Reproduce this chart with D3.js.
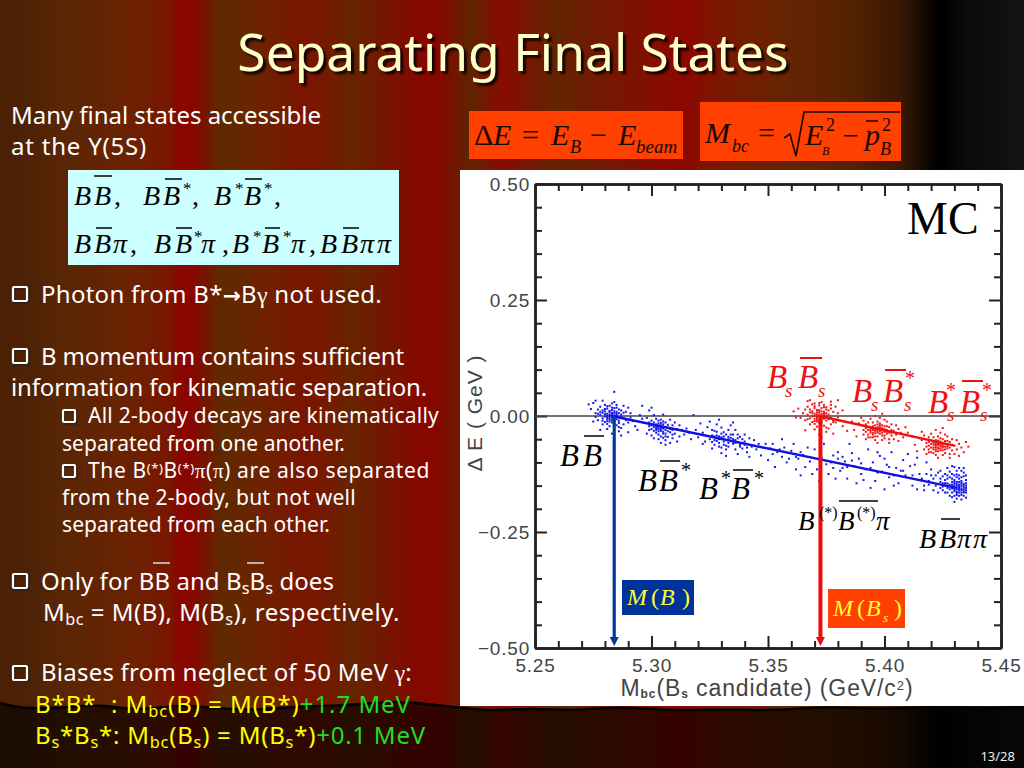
<!DOCTYPE html>
<html><head><meta charset="utf-8">
<script src="https://cdnjs.cloudflare.com/ajax/libs/d3/7.8.5/d3.min.js"></script>
<style>html,body{margin:0;padding:0;background:#000;overflow:hidden}svg{display:block}text{white-space:pre}</style>
</head><body><svg id="c" width="1024" height="768"></svg>
<script>
// ---- Chart data (mass in MeV/c^2, energy difference in MeV) ----
const xMajor=[5250,5300,5350,5400,5450];
const yMajor=[-500,-250,0,250,500];
const xMinor=[5260,5270,5280,5290,5310,5320,5330,5340,5360,5370,5380,5390,5410,5420,5430,5440];
const yMinor=[-450,-400,-350,-300,-200,-150,-100,-50,50,100,150,200,300,350,400,450];
const blueFit=[[5283,0],[5431,-155]];
const redFit=[[5372,0],[5430,-64]];
const bbDots=[[5283,2],[5281,-6],[5285,5],[5279,12],[5286,-10],[5284,-2],[5282,8],[5280,-1],[5287,3],[5283,-14],[5278,20],[5281,16],[5285,18],[5288,-4],[5276,6],[5284,10],[5282,-8],[5277,-9],[5289,9],[5286,14],[5280,24],[5283,27],[5275,28],[5279,-18],[5285,-20],[5287,-26],[5282,-22],[5290,-14],[5291,-3],[5284,30],[5288,22],[5276,-2],[5274,15],[5281,-28],[5286,-33],[5283,-38],[5279,33],[5284,52],[5278,-30],[5290,18],[5282,3],[5284,-5],[5283,7],[5285,-1],[5281,1],[5280,10],[5286,6],[5282,-12],[5284,-16],[5287,12],[5278,3],[5277,14],[5289,-9],[5292,-11],[5293,-22],[5288,-18],[5285,24],[5281,21],[5283,13],[5280,-13],[5279,-5],[5286,-24],[5284,17],[5282,-4],[5283,-9],[5285,9],[5281,-17],[5291,6],[5294,-30],[5275,-12],[5273,25],[5276,33],[5290,-35],[5287,-42],[5282,0],[5283,4],[5284,1],[5281,5],[5285,2],[5280,4],[5286,-3],[5282,11],[5284,6],[5283,-4],[5281,-3],[5279,7],[5285,-7],[5287,-2],[5278,9],[5280,15],[5283,18],[5282,22],[5284,-11],[5286,-15],[5281,-11],[5279,-10],[5277,5],[5288,7]];
const bbsDots=[[5304,-25],[5302,-18],[5306,-30],[5300,-10],[5308,-35],[5303,-40],[5305,-12],[5299,-22],[5309,-20],[5301,-32],[5307,-45],[5304,-8],[5311,-28],[5298,-4],[5297,-15],[5303,-28],[5305,-24],[5302,-36],[5300,-42],[5310,-38],[5306,-52],[5304,-58],[5312,-44],[5301,2],[5305,3],[5308,-8],[5313,-30],[5299,-30],[5296,-6],[5295,2],[5303,-16],[5307,-19],[5304,-32],[5306,-38],[5302,-26],[5300,-20],[5309,-48],[5311,-55],[5314,-40],[5315,-27],[5303,-50],[5306,-62],[5298,-38],[5301,-48],[5305,-18],[5303,-22],[5307,-26],[5304,-44],[5310,-14],[5302,-6],[5300,18],[5316,-36],[5317,-50],[5308,-58],[5312,-20],[5309,-30],[5305,-34],[5304,-20],[5306,-14],[5301,-14],[5299,12],[5296,22],[5303,-25],[5304,-29],[5305,-27],[5302,-22],[5306,-24],[5301,-24],[5307,-33],[5303,-33],[5305,-38],[5304,-15],[5308,-28],[5302,-30],[5300,-28],[5306,-44],[5303,-10],[5299,-14],[5309,-40],[5305,-47]];
const bsbsDots=[[5330,-50],[5328,-42],[5333,-58],[5326,-30],[5335,-60],[5331,-35],[5329,-66],[5337,-48],[5325,-50],[5334,-40],[5327,-62],[5332,-72],[5339,-70],[5324,-24],[5336,-30],[5330,-80],[5340,-55],[5322,-36],[5333,-45],[5331,-55],[5329,-50],[5335,-50],[5327,-44],[5338,-62],[5341,-78],[5343,-66],[5326,-70],[5323,-55],[5321,-16],[5328,-18],[5334,-20],[5330,-25],[5337,-82],[5342,-88],[5345,-72],[5347,-85],[5319,-30],[5332,-64],[5336,-72],[5325,-12],[5329,-8],[5335,-14],[5333,-30],[5340,-40],[5344,-52],[5331,-44],[5328,-54],[5326,-56],[5334,-54],[5336,-58],[5339,-58],[5338,-45],[5322,-60],[5320,-46],[5342,-48],[5327,-32],[5330,-68],[5332,-86],[5346,-60],[5318,2],[5330,-46],[5331,-49],[5332,-52],[5329,-44],[5333,-50],[5328,-48],[5334,-47],[5335,-55],[5327,-52],[5326,-42],[5336,-52],[5337,-56],[5329,-58],[5331,-62],[5333,-66],[5338,-66],[5340,-62],[5341,-68],[5330,-38],[5332,-40],[5328,-34],[5335,-40],[5337,-40],[5339,-50]];
const pionDots=[[5349,-60],[5352,-82],[5355,-72],[5358,-100],[5360,-75],[5361,-60],[5363,-92],[5365,-84],[5366,-110],[5368,-98],[5370,-72],[5371,-115],[5373,-90],[5375,-104],[5376,-125],[5378,-85],[5380,-78],[5381,-118],[5383,-98],[5384,-135],[5386,-80],[5387,-108],[5389,-92],[5390,-125],[5392,-115],[5393,-72],[5395,-100],[5396,-140],[5398,-86],[5399,-120],[5401,-105],[5402,-132],[5403,-78],[5405,-112],[5406,-145],[5408,-95],[5409,-128],[5411,-108],[5412,-150],[5414,-90],[5415,-125],[5416,-138],[5418,-100],[5419,-148],[5420,-115],[5356,-50],[5362,-115],[5369,-125],[5374,-60],[5379,-135],[5385,-60],[5391,-138],[5397,-78],[5404,-150],[5410,-82],[5417,-160],[5353,-110],[5359,-92],[5367,-68],[5377,-100],[5382,-88],[5388,-145],[5394,-155],[5400,-92],[5407,-118],[5413,-105],[5382,-112],[5364,-128],[5372,-140],[5400,-158],[5351,-70],[5354,-78],[5357,-68],[5362,-88],[5364,-78],[5378,-112],[5380,-92],[5384,-110],[5386,-96],[5390,-102],[5394,-112],[5397,-122],[5402,-110],[5404,-128],[5408,-118],[5412,-128],[5350,-95],[5352,-60],[5356,-88]];
const pipiDots=[[5428,-148],[5430,-155],[5432,-160],[5431,-150],[5429,-142],[5433,-165],[5427,-135],[5430,-162],[5432,-148],[5434,-158],[5431,-170],[5428,-120],[5426,-150],[5429,-165],[5433,-140],[5430,-128],[5425,-130],[5434,-172],[5432,-135],[5435,-150],[5431,-118],[5427,-165],[5424,-142],[5433,-118],[5429,-175],[5435,-165],[5423,-122],[5422,-150],[5431,-158],[5430,-146],[5432,-154],[5433,-152],[5434,-146],[5431,-142],[5428,-158],[5429,-152],[5427,-145],[5426,-125],[5430,-138],[5432,-128],[5434,-130],[5435,-138],[5428,-132],[5425,-160],[5424,-118],[5421,-135],[5420,-128],[5433,-180],[5430,-185],[5434,-112],[5429,-108],[5432,-112],[5427,-112],[5423,-165],[5419,-140],[5418,-125],[5417,-150],[5431,-163],[5433,-157],[5435,-155],[5430,-150],[5432,-142],[5429,-135],[5431,-132],[5434,-165],[5426,-138],[5428,-172],[5433,-170],[5435,-176],[5431,-178],[5430,-172],[5425,-145],[5422,-128],[5424,-155],[5427,-155],[5416,-135],[5414,-158],[5421,-160],[5434,-122],[5430,-110],[5431,-154],[5432,-151],[5433,-148],[5434,-154],[5435,-160],[5432,-156],[5431,-146],[5430,-158],[5429,-156],[5433,-160],[5432,-165],[5434,-150],[5435,-145],[5433,-144],[5431,-166],[5430,-142],[5429,-148],[5428,-152],[5427,-150],[5426,-145],[5425,-152],[5432,-172],[5434,-162],[5433,-132],[5435,-128],[5431,-126],[5429,-125],[5427,-128],[5426,-165],[5424,-135]];
const rbbDots=[[5372,2],[5370,-6],[5374,6],[5368,14],[5375,-10],[5373,-2],[5371,8],[5369,-1],[5376,3],[5372,-15],[5367,20],[5370,17],[5374,19],[5377,-4],[5365,6],[5373,10],[5371,-8],[5366,-9],[5378,9],[5375,14],[5369,25],[5372,28],[5364,-4],[5368,-18],[5374,-21],[5376,-27],[5371,-23],[5379,-14],[5380,-3],[5373,30],[5377,24],[5367,32],[5363,16],[5370,-29],[5375,-34],[5372,-40],[5368,34],[5382,12],[5366,-31],[5379,20],[5371,3],[5373,-5],[5372,7],[5374,-1],[5370,1],[5369,10],[5375,6],[5371,-12],[5373,-16],[5376,12],[5367,3],[5366,14],[5378,-9],[5381,-11],[5382,-22],[5377,-18],[5374,24],[5370,21],[5372,13],[5369,-13],[5368,-5],[5375,-25],[5373,17],[5371,-4],[5372,-9],[5374,9],[5370,-17],[5380,6],[5362,-3],[5384,-32],[5378,-38],[5361,10],[5377,31],[5373,-46],[5380,34],[5372,-1],[5373,4],[5371,-2],[5374,3],[5370,5],[5375,1],[5372,11],[5369,6],[5371,13],[5373,-11],[5374,-6],[5376,-7],[5370,-11],[5368,8],[5367,-7],[5375,19],[5372,23],[5370,27],[5377,16],[5378,-13]];
const rbsDots=[[5397,-30],[5395,-22],[5399,-36],[5393,-14],[5401,-38],[5396,-44],[5398,-16],[5392,-26],[5402,-24],[5394,-36],[5400,-48],[5397,-12],[5404,-32],[5391,-10],[5390,-20],[5396,-32],[5398,-28],[5395,-40],[5393,-46],[5403,-42],[5399,-52],[5397,-58],[5405,-40],[5394,-6],[5398,-4],[5401,-12],[5406,-28],[5392,-34],[5389,-16],[5396,-20],[5400,-22],[5397,-36],[5399,-42],[5395,-30],[5393,-24],[5402,-50],[5404,-50],[5407,-36],[5396,-52],[5399,-26],[5401,-30],[5397,-24],[5398,-33],[5394,-28],[5391,-40],[5403,-18],[5405,-20],[5395,-14],[5400,-8],[5387,-30],[5386,-12],[5408,-46],[5409,-24],[5396,-26],[5398,-38],[5400,-34],[5394,-46],[5392,-50],[5402,-58],[5406,-54],[5390,-4],[5396,0],[5399,5],[5393,-40],[5397,-44],[5395,-36],[5401,-22],[5403,-30],[5388,-44],[5410,-36],[5397,-27],[5398,-24],[5396,-29],[5399,-31],[5395,-26],[5397,-33],[5400,-28],[5394,-32],[5398,-20],[5396,-37],[5401,-34],[5393,-30],[5399,-20],[5397,-18],[5402,-36],[5395,-46],[5400,-42],[5392,-18],[5403,-36],[5391,-30]];
const rbssDots=[[5423,-62],[5421,-54],[5425,-68],[5419,-46],[5427,-70],[5422,-76],[5424,-48],[5418,-58],[5428,-56],[5420,-68],[5426,-80],[5423,-44],[5430,-64],[5417,-42],[5416,-52],[5422,-64],[5424,-60],[5421,-72],[5419,-78],[5429,-74],[5425,-84],[5423,-90],[5431,-72],[5420,-38],[5424,-36],[5427,-44],[5432,-60],[5418,-66],[5415,-48],[5422,-52],[5426,-54],[5423,-68],[5425,-74],[5421,-62],[5419,-56],[5428,-82],[5430,-82],[5433,-68],[5422,-84],[5425,-58],[5427,-62],[5423,-56],[5424,-65],[5420,-60],[5417,-72],[5429,-50],[5431,-52],[5421,-46],[5426,-40],[5413,-62],[5412,-44],[5434,-78],[5435,-56],[5422,-58],[5424,-70],[5426,-66],[5420,-78],[5418,-82],[5428,-90],[5432,-86],[5416,-34],[5422,-30],[5425,-26],[5419,-72],[5423,-76],[5421,-68],[5427,-54],[5429,-62],[5414,-76],[5436,-66],[5423,-60],[5424,-63],[5425,-65],[5422,-67],[5423,-70],[5424,-55],[5422,-61],[5421,-58],[5425,-61],[5426,-60],[5423,-53],[5424,-74],[5422,-72],[5425,-50],[5427,-66],[5420,-52],[5428,-68],[5419,-64],[5426,-72],[5421,-80]];
const curtainStops=[[0,'#4a2005'],[30,'#4e2205'],[65,'#5a2605'],[130,'#6b2202'],[170,'#7a1600'],[180,'#8a0500'],[192,'#880600'],[222,'#5f2a00'],[262,'#6e2200'],[304,'#7a1500'],[320,'#781800'],[352,'#662400'],[418,'#850800'],[438,'#850800'],[470,'#602400'],[503,'#880c00'],[555,'#632402'],[672,'#8a0a00'],[692,'#8a0a00'],[720,'#7a1800'],[784,'#662402'],[850,'#552202'],[900,'#3a1804'],[925,'#120802'],[940,'#000000'],[966,'#0a0a0a'],[1024,'#141414']];
const hemWave=[[0,703],[22,709],[60,708],[100,704],[135,711],[175,705],[205,707],[250,711],[300,706],[340,706],[395,701],[430,704],[460,708],[490,711],[530,708],[575,711],[620,706],[670,711],[720,709],[770,711],[830,706],[880,710],[930,706],[980,710],[1024,706]];

const svg=d3.select('#c');
const defs=svg.append('defs');
const cg=defs.append('linearGradient').attr('id','curtain').attr('gradientUnits','userSpaceOnUse').attr('x1',0).attr('x2',1024).attr('y1',0).attr('y2',0);
curtainStops.forEach(s=>cg.append('stop').attr('offset',s[0]/1024).attr('stop-color',s[1]));
svg.append('rect').attr('width',1024).attr('height',768).attr('fill','url(#curtain)');
const waveLine=d3.line().curve(d3.curveBasis);
svg.append('path').attr('d',waveLine(hemWave)+'L1024,768L0,768Z').attr('fill','#000').attr('fill-opacity',.62);
svg.append('path').attr('d',waveLine(hemWave)).attr('fill','none').attr('stroke','#000').attr('stroke-width',2.5);

const SANS='"Noto Sans",sans-serif', SERIF='"Liberation Serif",serif';
// one text line; the tracking is adjusted so that it ends where the reference line ends
function line(y,x,end,size,parts,fill){
  const t=svg.append('text').attr('x',x).attr('y',y).attr('font-family',SANS).attr('font-size',size).attr('fill',fill||'#fff');
  parts.forEach(p=>{
    if(typeof p==='string'){t.append('tspan').text(p);return;}
    const s=t.append('tspan').text(p.t);
    if(p.c)s.attr('fill',p.c);
    if(p.sub){s.attr('font-size',size*.68).attr('baseline-shift','-22%');}
    if(p.sup){s.attr('font-size',size*.62).attr('baseline-shift','38%');}
    if(p.serif)s.attr('font-family',SERIF);
    if(p.arrow)s.attr('font-family','"DejaVu Sans"').attr('font-weight','bold').attr('font-size',size*.9);
  });
  const len=t.node().getComputedTextLength(), n=t.text().length;
  t.attr('letter-spacing',((end-x-len)/n).toFixed(3)+'px');
  return t;
}
function box(x,y,s){ // hollow square bullet
  s=s||14;
  svg.append('rect').attr('x',x+1.5).attr('y',y+1.5).attr('width',s).attr('height',s).attr('fill','none').attr('stroke','#222').attr('stroke-width',2.4).attr('opacity',.7);
  svg.append('rect').attr('x',x).attr('y',y).attr('width',s).attr('height',s).attr('fill','none').attr('stroke','#fff').attr('stroke-width',2.2).attr('rx',1);
}
// title
svg.append('text').attr('x',513).attr('y',71).attr('text-anchor','middle').attr('font-family',SANS).attr('font-size',51.5).attr('fill','#ffffcc').style('text-shadow','3px 3px 2px rgba(0,0,0,.8)').text('Separating Final States');
// left column
const S=24,S2=21;
line(124,11,321,S,['Many final states accessible']);
line(155,11,147,S,['at the Y(5S)']);
box(13,287);line(303,41,382,S,['Photon from B*',{t:'→',arrow:1},'B',{t:'γ',serif:1},' not used.']);
box(13,349);line(365,41,404,S,['B momentum contains sufficient']);
line(396,11,427,S,['information for kinematic separation.']);
box(63,410,12);line(423,88,439,S2,['All 2-body decays are kinematically']);
line(451,62,345,S2,['separated from one another.']);
box(63,465,12);line(478,88,430,S2,['The B',{t:'(*)',sup:1},'B',{t:'(*)',sup:1},{t:'π',serif:1},'(',{t:'π',serif:1},') are also separated']);
line(505,62,356,S2,['from the 2-body, but not well']);
line(532,62,330,S2,['separated from each other.']);
box(13,574);line(590,41,334,S,['Only for BB and B',{t:'s',sub:1},'B',{t:'s',sub:1},' does']);
[[153,170],[247,264]].forEach(b=>svg.append('line').attr('x1',b[0]).attr('x2',b[1]).attr('y1',563).attr('y2',563).attr('stroke','#ddd').attr('stroke-width',1.5));
line(621,43,400,S,['M',{t:'bc',sub:1},' = M(B), M(B',{t:'s',sub:1},'), respectively.']);
box(13,666);line(681,41,412,S,['Biases from neglect of 50 MeV ',{t:'γ',serif:1},':']);
line(713,35,411,S,['B*B*  : M',{t:'bc',sub:1},'(B) = M(B*)',{t:'+1.7 MeV',c:'#22dd22'}],'#ffff00');
line(744,35,426,S,['B',{t:'s',sub:1},'*B',{t:'s',sub:1},'*: M',{t:'bc',sub:1},'(B',{t:'s',sub:1},') = M(B',{t:'s',sub:1},'*)',{t:'+0.1 MeV',c:'#22dd22'}],'#ffff00');
svg.append('text').attr('x',1015).attr('y',761).attr('text-anchor','end').attr('font-family',SANS).attr('font-size',13).attr('fill','#eee').text('13/28');

// math helper: [text,x,y,size,italic?]
function math(items,fill){items.forEach(i=>{
  svg.append('text').attr('x',i[1]).attr('y',i[2]).attr('font-family',SERIF).attr('font-size',i[3]).attr('font-style',i[4]===0?'normal':'italic').attr('fill',fill||'#000').text(i[0]);});}
function bars(list,col,w){list.forEach(b=>svg.append('line').attr('x1',b[0]).attr('x2',b[1]).attr('y1',b[2]).attr('y2',b[2]).attr('stroke',col||'#000').attr('stroke-width',w||1.5));}
// cyan formula box
svg.append('rect').attr('x',68).attr('y',170).attr('width',331).attr('height',95).attr('fill','#ccffff');
math([['B',74,205,28],['B',94,205,28],[',',114,205,28,0],['B',143,205,28],['B',163,205,28],['*',183,194,17,0],[',',192,205,28,0],['B',214,205,28],['*',235,194,17,0],['B',244,205,28],['*',264,194,17,0],[',',274,205,28,0],
['B',74,253,28],['B',94,253,28],['π',113,253,28],[',',130,253,28,0],['B',154,253,28],['B',175,253,28],['*',194,242,17,0],['π',201,253,28],[',',222,253,28,0],['B',232,253,28],['*',253,242,17,0],['B',262,253,28],['*',283,242,17,0],['π',291,253,28],[',',309,253,28,0],['B',320,253,28],['B',341,253,28],['π',360,253,28],['π',377,253,28]]);
bars([[94,112,176],[165,182,179],[245,262,179],[96,112,228],[176,192,228],[265,280,228],[343,359,228]]);
// orange formula boxes
svg.append('rect').attr('x',469).attr('y',111).attr('width',214).attr('height',48).attr('fill','#ff4000');
svg.append('rect').attr('x',700).attr('y',102).attr('width',201).attr('height',59).attr('fill','#ff4000');
math([['Δ',474,145,30,0],['E',493,145,30],['=',522,145,30,0],['E',551,145,30],['B',570,153,18],['−',590,145,30,0],['E',618,145,30],['beam',636,153,19]],'#1a0500');
math([['M',705,143,30],['bc',732,152,18],['=',758,143,30,0],['E',805,145,30],['2',826,131,18,0],['B',822,155,12],['−',843,145,28,0],['p',865,145,30],['2',882,131,18,0],['B',880,155,18]],'#1a0500');
svg.append('path').attr('d','M784,138L790,134L796,156L804,112L900,112').attr('fill','none').attr('stroke','#1a0500').attr('stroke-width',1.6);
bars([[866,878,121]],'#1a0500');

// plot panel
svg.append('rect').attr('x',460).attr('y',170).attr('width',564).attr('height',536).attr('fill','#fff');
const L=535,R=1001,T=184,B=648;
const x=d3.scaleLinear().domain([5250,5450]).range([L,R]);
const y=d3.scaleLinear().domain([-500,500]).range([B,T]);
const fx=d=>d3.format('.2f')(d/1000), fy=d=>d3.format('.2f')(d/1000);
const AX='#222';
function axisOf(gen,tx,ty,vals,size,labels,pad){
  const g=svg.append('g').attr('transform',`translate(${tx},${ty})`);
  const a=gen.tickValues(vals).tickSizeInner(-size).tickSizeOuter(0).tickPadding(pad||0);
  a.tickFormat(labels||(()=>''));
  g.call(a);
  g.selectAll('line').attr('stroke',AX).attr('stroke-width',2);
  g.selectAll('.domain').attr('stroke',AX).attr('stroke-width',2.5);
  g.selectAll('text').attr('font-family','"Liberation Sans",sans-serif').attr('font-size',19).attr('fill','#444').attr('letter-spacing','.8px');
  return g;
}
axisOf(d3.axisBottom(x),0,B,xMinor,7);
axisOf(d3.axisTop(x),0,T,xMinor,7);
axisOf(d3.axisLeft(y),L,0,yMinor,7);
axisOf(d3.axisRight(y),R,0,yMinor,7);
axisOf(d3.axisBottom(x),0,B,xMajor,12,fx,11);
axisOf(d3.axisTop(x),0,T,xMajor,12);
axisOf(d3.axisLeft(y),L,0,yMajor,12,fy,5);
axisOf(d3.axisRight(y),R,0,yMajor,12);
svg.append('line').attr('x1',L).attr('x2',R).attr('y1',y(0)).attr('y2',y(0)).attr('stroke','#444').attr('stroke-width',1.6);
// axis titles
const xl=svg.append('text').attr('x',767).attr('y',696).attr('text-anchor','middle').attr('font-family','"Liberation Sans",sans-serif').attr('font-size',23).attr('fill','#444').attr('letter-spacing','.9px');
xl.append('tspan').text('M');xl.append('tspan').text('bc').attr('font-size',12).attr('font-weight','bold').attr('baseline-shift','-15%');
xl.append('tspan').text('(B');xl.append('tspan').text('s').attr('font-size',12).attr('font-weight','bold').attr('baseline-shift','-15%');
xl.append('tspan').text(' candidate) (GeV/c');xl.append('tspan').text('2').attr('font-size',13).attr('baseline-shift','45%');xl.append('tspan').text(')');
svg.append('text').attr('transform','translate(482,413) rotate(-90)').attr('text-anchor','middle').attr('font-family','"Liberation Sans",sans-serif').attr('font-size',21).attr('fill','#444').attr('letter-spacing','1px').text('Δ E ( GeV )');
// scatter
function dots(data,col){svg.append('g').selectAll('rect').data(data).join('rect').attr('x',d=>x(d[0])-1).attr('y',d=>y(d[1])-1).attr('width',2).attr('height',2).attr('fill',col);}
const BLUE='#1515ee',RED='#f01515';
[bbDots,bbsDots,bsbsDots,pionDots,pipiDots].forEach(d=>dots(d,BLUE));
[rbbDots,rbsDots,rbssDots].forEach(d=>dots(d,RED));
const fit=d3.line().x(d=>x(d[0])).y(d=>y(d[1]));
svg.append('path').attr('d',fit(blueFit)).attr('stroke','#1010e0').attr('stroke-width',2.4).attr('fill','none');
svg.append('path').attr('d',fit(redFit)).attr('stroke','#f01010').attr('stroke-width',2.4).attr('fill','none');
// arrows down to M(B), M(Bs)
function arrow(xv,col,w){const px=x(xv);
  svg.append('line').attr('x1',px).attr('x2',px).attr('y1',y(0)).attr('y2',B-8).attr('stroke',col).attr('stroke-width',w);
  svg.append('path').attr('d',`M${px-4.5},${B-11}L${px+4.5},${B-11}L${px},${B-2}Z`).attr('fill',col);}
arrow(5284,'#003a9a',3.2);arrow(5372.5,'#f00a0a',4);
// labels
math([['MC',907,234,46,0]]);
math([['B',560,466,31],['B',583,466,31],['B',638,491,31],['B',659,491,31],['*',681,477,20,0],['B',699,499,31],['*',721,485,20,0],['B',731,499,31],['*',754,485,20,0],
['B',798,530,27],['(*)',819,518,16,0],['B',838,530,27],['(*)',857,518,16,0],['π',876,530,27],['B',919,548,28],['B',939,548,28],['π',957,548,28],['π',973,548,28]]);
bars([[584,604,436],[660,680,461],[733,753,470],[839,878,501],[941,960,519]]);
math([['B',767,388,33],['s',785,397,19],['B',798,388,33],['s',818,397,19],['B',852,402,33],['s',871,411,19],['B',883,402,33],['*',905,385,20,0],['s',904,411,19],
['B',928,413,33],['s',947,421,19],['*',946,397,20,0],['B',960,413,33],['*',982,397,20,0],['s',980,421,19]],'#ee1111');
bars([[800,822,358],[885,906,370],[962,983,381]],'#ee1111',2);
svg.append('rect').attr('x',622).attr('y',580).attr('width',72).attr('height',35).attr('fill','#003399');
math([['M',627,605,24],['(',651,605,24,0],['B',660,605,24],[')',682,605,24,0]],'#ffff33');
svg.append('rect').attr('x',828).attr('y',589).attr('width',77).attr('height',39).attr('fill','#ff4000');
math([['M',833,616,24],['(',857,616,24,0],['B',866,616,24],['s',883,622,13],[')',894,616,24,0]],'#ffff33');
</script></body></html>
